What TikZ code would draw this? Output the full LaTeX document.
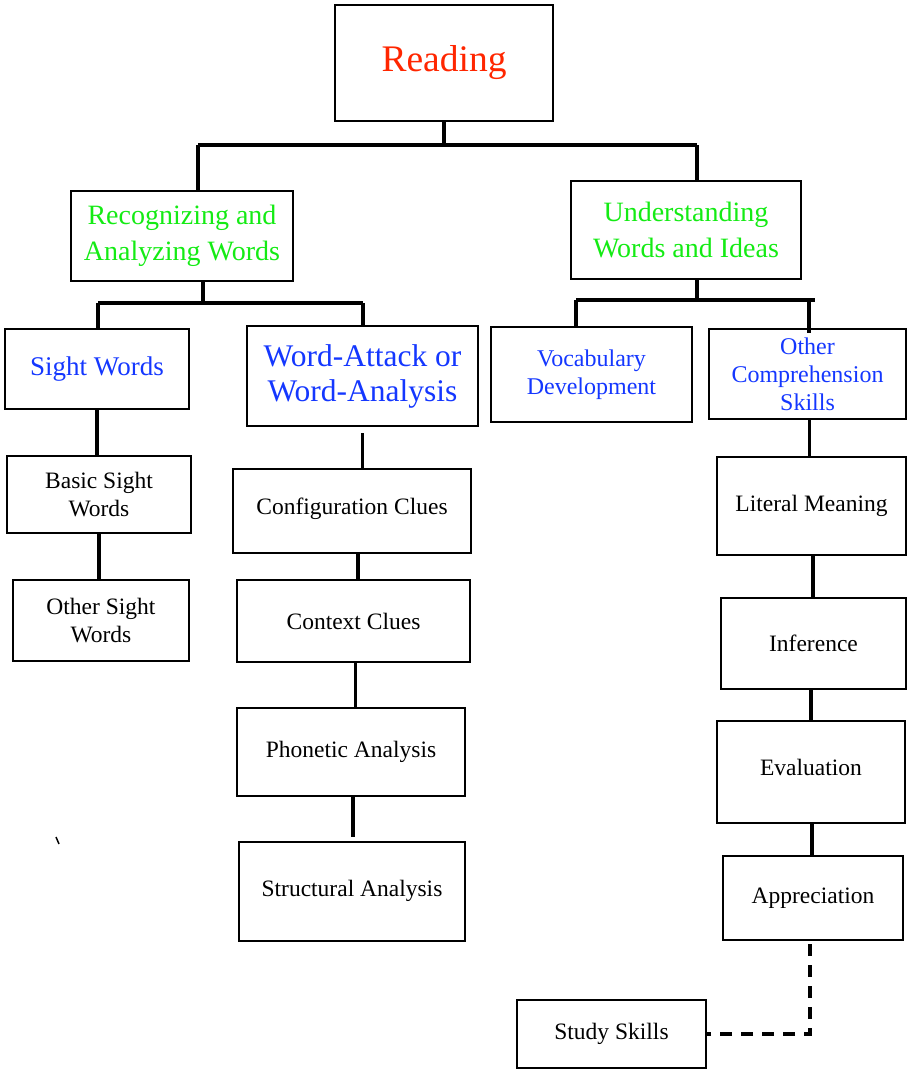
\documentclass[tikz,border=0pt]{standalone}
\usepackage{fontspec}
\setmainfont{Liberation Serif}
\definecolor{readred}{RGB}{255,38,0}
\definecolor{skillgreen}{RGB}{20,235,20}
\definecolor{skillblue}{RGB}{20,55,255}
\tikzset{
  box/.style={draw, line width=2pt, inner sep=0pt, align=center},
  conn/.style={line width=3.3pt},
  bigtxt/.style={font=\fontsize{28}{36}\selectfont, text=skillgreen},
  midtxt/.style={font=\fontsize{24}{28}\selectfont, text=skillblue},
  plaintxt/.style={font=\fontsize{23.5}{28}\selectfont}
}
\begin{document}
\begin{tikzpicture}[x=1pt, y=-1pt]
            \useasboundingbox (0,0) rectangle (907,1072);

            % top level
            \node[box, minimum width=218pt, minimum height=116pt, font=\fontsize{37.5}{40}\selectfont, text=readred] (reading) at (444,63) {Reading};
            \node[box, bigtxt, minimum width=222pt, minimum height=90pt] (recog) at (182,236) {Recognizing and\\Analyzing Words};
            \node[box, bigtxt, minimum width=230pt, minimum height=98pt] (underst) at (686,230) {Understanding\\Words and Ideas};

            % second level
            \node[box, minimum width=184pt, minimum height=80pt, font=\fontsize{27}{32}\selectfont, text=skillblue] (sight) at (97,369) {Sight Words};
            \node[box, minimum width=231pt, minimum height=100pt, font=\fontsize{31.5}{35}\selectfont, text=skillblue] (wattack) at (362.5,376) {Word-Attack or\\Word-Analysis};
            \node[box, midtxt, minimum width=201pt, minimum height=95pt] (vocab) at (591.5,374.5) {Vocabulary\\Development};
            \node[box, midtxt, minimum width=197pt, minimum height=90pt] (othercomp) at (807.5,374) {Other\\Comprehension\\Skills};

            % sight words
            \node[box, plaintxt, minimum width=184pt, minimum height=77pt] (basic) at (99,494.5) {Basic Sight\\Words};
            \node[box, plaintxt, minimum width=176pt, minimum height=81pt] (othersight) at (101,620.5) {Other Sight\\Words};

            % word attack
            \node[box, plaintxt, minimum width=238pt, minimum height=84pt, text depth=10pt] (config) at (352,511) {Configuration Clues};
            \node[box, plaintxt, minimum width=233pt, minimum height=82pt] (context) at (353.5,621) {Context Clues};
            \node[box, plaintxt, minimum width=228pt, minimum height=88pt, text depth=6pt] (phonetic) at (351,752) {Phonetic Analysis};
            \node[box, plaintxt, minimum width=226pt, minimum height=99pt, text depth=6pt] (struct) at (352,891.5) {Structural Analysis};

            % comprehension
            \node[box, plaintxt, minimum width=189pt, minimum height=98pt] (literal) at (811.5,506) {Literal Meaning};
            \node[box, plaintxt, minimum width=185pt, minimum height=91pt] (infer) at (813.5,643.5) {Inference};
            \node[box, plaintxt, minimum width=188pt, minimum height=102pt, text depth=10pt] (evalu) at (811,772) {Evaluation};
            \node[box, plaintxt, minimum width=180pt, minimum height=84pt] (apprec) at (813,898) {Appreciation};
            \node[box, plaintxt, minimum width=189pt, minimum height=68pt] (study) at (611.5,1034) {Study Skills};

            % bus lines
            \coordinate (busA) at (198,145);
            \coordinate (busB) at (697,145);
            \draw[conn] (reading.south) -- (reading.south |- busA);
            \draw[conn] (busA) -- (busB);
            \draw[conn] (busA) -- (busA |- recog.north);
            \draw[conn] (busB) -- (busB |- underst.north);

            \coordinate (recDrop) at (203,281);
            \coordinate (busC) at (98,303);
            \coordinate (busD) at (363,303);
            \draw[conn] (recDrop) -- (recDrop |- busC);
            \draw[conn] (busC) -- (busD);
            \draw[conn] (busC) -- (busC |- sight.north);
            \draw[conn] (busD) -- (busD |- wattack.north);

            \coordinate (undDrop) at (697,279);
            \coordinate (busE) at (576,300);
            \coordinate (busF) at (815,300);
            \coordinate (busG) at (809,300);
            \draw[conn] (undDrop) -- (undDrop |- busE);
            \draw[conn] (busE) -- (busF);
            \draw[conn] (busE) -- ([yshift=-2pt]busE |- vocab.north);
            \draw[conn] (busG) -- ([yshift=-5pt]busG |- othercomp.north);

            % stacks
            \draw[conn] (sight.south) -- (sight.south |- basic.north);
            \draw[conn] (basic.south) -- (basic.south |- othersight.north);
            \draw[conn, shorten <=6pt] (wattack.south) -- (wattack.south |- config.north);
            \draw[conn] ([xshift=6pt]config.south) -- ([xshift=6pt]config.south |- context.north);
            \draw[conn] ([xshift=2pt]context.south) -- ([xshift=2pt]context.south |- phonetic.north);
            \draw[conn, shorten >=4pt] ([xshift=2pt]phonetic.south) -- ([xshift=2pt]phonetic.south |- struct.north);
            \draw[conn] ([xshift=2pt]othercomp.south) -- ([xshift=2pt]othercomp.south |- literal.north);
            \draw[conn] ([xshift=1.5pt]literal.south) -- ([xshift=1.5pt]literal.south |- infer.north);
            \draw[conn] ([xshift=-2.5pt]infer.south) -- ([xshift=-2.5pt]infer.south |- evalu.north);
            \draw[conn] ([xshift=1pt]evalu.south) -- ([xshift=1pt]evalu.south |- apprec.north);
            \draw[conn, dash pattern=on 12pt off 9pt] ([xshift=-3pt, yshift=-3pt]apprec.south) -- ([xshift=-3pt]apprec.south |- study.east) -- (study.east);

            % stray mark
            \draw[line width=1.5pt] (56,837) -- (59,844);
        \end{tikzpicture}
\end{document}
